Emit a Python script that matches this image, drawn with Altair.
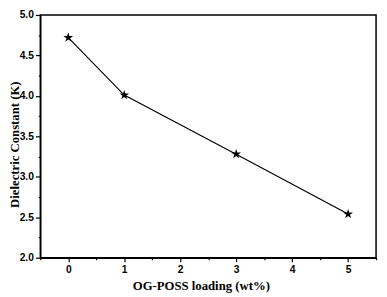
import altair as alt
import pandas as pd

loading = [0, 1, 3, 5]
dielectric = [4.72, 4.01, 3.28, 2.54]
x_ticks = [-0.5, 0, 0.5, 1, 1.5, 2, 2.5, 3, 3.5, 4, 4.5, 5, 5.5]
y_ticks = [2.0, 2.25, 2.5, 2.75, 3.0, 3.25, 3.5, 3.75, 4.0, 4.25, 4.5, 4.75, 5.0]

df = pd.DataFrame({"x": loading, "y": dielectric})

STAR = ("M0,-1L0.2245,-0.309L0.951,-0.309L0.363,0.118L0.588,0.809L0,0.382"
        "L-0.588,0.809L-0.363,0.118L-0.951,-0.309L-0.2245,-0.309Z")

xs = alt.Scale(domain=[-0.5, 5.5], nice=False, zero=False)
ys = alt.Scale(domain=[2.0, 5.0], nice=False, zero=False)

x_major = "abs(datum.value - round(datum.value)) < 0.01"
y_major = "abs(datum.value*2 - round(datum.value*2)) < 0.01"

common = dict(labelFont="Liberation Sans", labelFontWeight="bold", labelFontSize=10.5,
              labelColor="black", domainColor="black", domainWidth=1.5,
              tickColor="black", tickWidth=1.2, grid=False,
              titleFont="Liberation Serif", titleFontSize=13, titleFontWeight="bold",
              titleColor="black", labelFlush=False, titleBaseline="middle",
              titleAlign="center")

base = alt.Chart(df).encode(
    x=alt.X("x:Q", scale=xs, axis=alt.Axis(
        values=x_ticks, labelPadding=3,
        labelExpr=f"({x_major}) ? format(datum.value, 'd') : ''",
        tickSize={"condition": {"test": x_major, "value": 4}, "value": 2},
        title="OG-POSS loading (wt%)", titleX=164, titleY=28, **common)),
    y=alt.Y("y:Q", scale=ys, axis=alt.Axis(
        values=y_ticks, labelPadding=2,
        labelExpr=f"({y_major}) ? format(datum.value, '.1f') : ''",
        tickSize={"condition": {"test": y_major, "value": 5}, "value": 2},
        title="Dielectric Constant (K)", titleX=-26, titleY=132, titleAngle=270,
        **common)),
)

line = base.mark_line(color="black", strokeWidth=1.2)
pts = base.mark_point(shape=STAR, filled=True, color="black", size=110, opacity=1)

chart = alt.layer(line, pts).properties(
    width=343, height=248, autosize=alt.AutoSizeParams(type="none"),
    padding={"left": 33, "top": 4, "right": 3, "bottom": 37},
).configure_view(stroke="black", strokeWidth=1.5)

chart.save("out.html", embed_options={"renderer": "svg", "actions": False})
